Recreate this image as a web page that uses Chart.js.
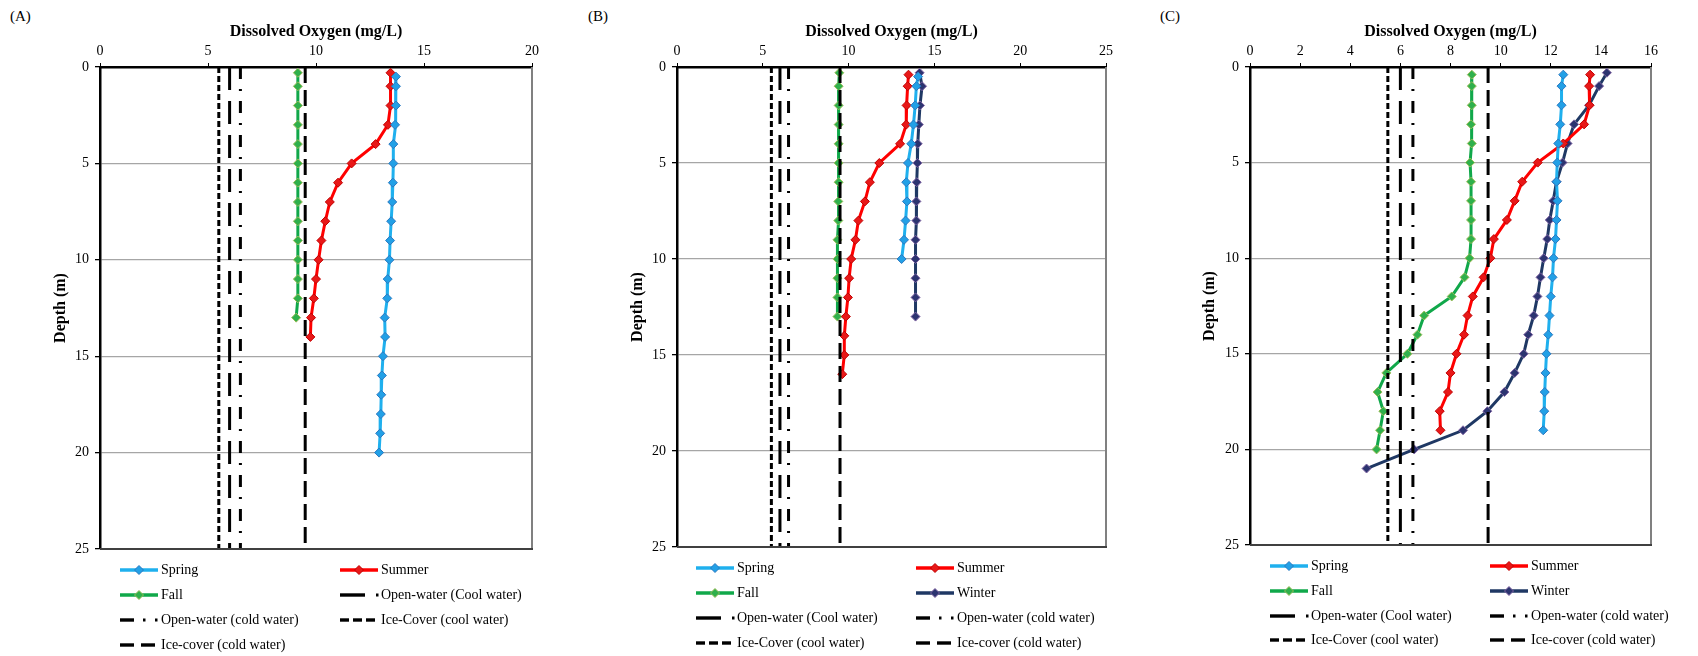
<!DOCTYPE html>
<html>
<head>
<meta charset="utf-8">
<script src="https://cdn.jsdelivr.net/npm/chart.js@4.4.1/dist/chart.umd.min.js"></script>
<style>
  body { margin: 0; background: #fff; }
  #page { position: relative; width: 1698px; height: 656px; overflow: hidden;
          font-family: 'Liberation Serif', 'Times New Roman', serif; color: #000; }
  #page canvas { position: absolute; top: 0; }
  .tag { position: absolute; top: 6px; font-size: 15px; line-height: 20px; }
  .item { position: absolute; height: 20px; font-size: 14px; line-height: 20px; white-space: nowrap; }
  .item svg { position: absolute; left: 0; top: 0; }
  .item span { position: absolute; left: 41px; top: 0; }
</style>
</head>
<body>
<div id="page"></div>
<script>
const SERIF = "'Liberation Serif', 'Times New Roman', serif";

// DO criteria (mg/L)
const iceCoolDO = 5.5;
const openCoolDO = 6;
const openColdDO = 6.5;
const iceColdDO = 9.5;

// (A)
const springDepthA = [0.5, 1, 2, 3, 4, 5, 6, 7, 8, 9, 10, 11, 12, 13, 14, 15, 16, 17, 18, 19, 20];
const springA = [13.70, 13.70, 13.70, 13.66, 13.58, 13.58, 13.56, 13.53, 13.48, 13.43, 13.40, 13.32, 13.30, 13.18, 13.20, 13.10, 13.05, 13.02, 13.00, 12.97, 12.92];
const summerDepthA = [0.3, 1, 2, 3, 4, 5, 6, 7, 8, 9, 10, 11, 12, 13, 14];
const summerA = [13.45, 13.45, 13.45, 13.33, 12.76, 11.65, 11.02, 10.64, 10.43, 10.25, 10.12, 10.00, 9.90, 9.77, 9.74];
const fallDepthA = [0.3, 1, 2, 3, 4, 5, 6, 7, 8, 9, 10, 11, 12, 13];
const fallA = [9.16, 9.16, 9.16, 9.16, 9.16, 9.16, 9.16, 9.16, 9.16, 9.16, 9.16, 9.16, 9.16, 9.08];

// (B)
const springDepthB = [0.5, 1, 2, 3, 4, 5, 6, 7, 8, 9, 10];
const springB = [14.05, 13.95, 13.88, 13.78, 13.65, 13.46, 13.36, 13.40, 13.32, 13.23, 13.09];
const summerDepthB = [0.4, 1, 2, 3, 4, 5, 6, 7, 8, 9, 10, 11, 12, 13, 14, 15, 16];
const summerB = [13.49, 13.44, 13.38, 13.36, 13.00, 11.79, 11.24, 10.95, 10.57, 10.40, 10.15, 10.03, 9.96, 9.84, 9.75, 9.75, 9.63];
const fallDepthB = [0.3, 1, 2, 3, 4, 5, 6, 7, 8, 9, 10, 11, 12, 13];
const fallB = [9.46, 9.42, 9.42, 9.42, 9.42, 9.42, 9.42, 9.40, 9.40, 9.35, 9.35, 9.35, 9.35, 9.35];
const winterDepthB = [0.3, 1, 2, 3, 4, 5, 6, 7, 8, 9, 10, 11, 12, 13];
const winterB = [14.14, 14.28, 14.16, 14.09, 14.03, 14.01, 13.97, 13.95, 13.95, 13.90, 13.90, 13.90, 13.90, 13.90];

// (C)
const springDepthC = [0.4, 1, 2, 3, 4, 5, 6, 7, 8, 9, 10, 11, 12, 13, 14, 15, 16, 17, 18, 19];
const springC = [12.50, 12.43, 12.43, 12.38, 12.30, 12.26, 12.23, 12.27, 12.23, 12.19, 12.11, 12.07, 12.00, 11.95, 11.90, 11.83, 11.79, 11.76, 11.74, 11.70];
const summerDepthC = [0.4, 1, 2, 3, 4, 5, 6, 7, 8, 9, 10, 11, 12, 13, 14, 15, 16, 17, 18, 19];
const summerC = [13.57, 13.53, 13.55, 13.33, 12.50, 11.48, 10.86, 10.56, 10.25, 9.73, 9.59, 9.32, 8.89, 8.68, 8.54, 8.24, 8.00, 7.90, 7.57, 7.60];
const fallDepthC = [0.4, 1, 2, 3, 4, 5, 6, 7, 8, 9, 10, 11, 12, 13, 14, 15, 16, 17, 18, 19, 20];
const fallC = [8.85, 8.85, 8.85, 8.82, 8.85, 8.78, 8.82, 8.82, 8.82, 8.82, 8.76, 8.56, 8.05, 6.95, 6.68, 6.28, 5.44, 5.09, 5.32, 5.19, 5.05];
const winterDepthC = [0.3, 1, 2, 3, 4, 5, 6, 7, 8, 9, 10, 11, 12, 13, 14, 15, 16, 17, 18, 19, 20, 21];
const winterC = [14.24, 13.93, 13.53, 12.93, 12.67, 12.47, 12.23, 12.10, 11.96, 11.86, 11.72, 11.59, 11.47, 11.32, 11.10, 10.92, 10.56, 10.15, 9.47, 8.50, 6.55, 4.65];

const depthMax = 25;

const styles = {
  Spring: { line: '#1fb0ee', fill: '#22a0e6', edge: '#2a78c0' },
  Summer: { line: '#ff0000', fill: '#e81818', edge: '#c00000' },
  Fall:   { line: '#10a84a', fill: '#2fb04c', edge: '#9bbb59' },
  Winter: { line: '#1f3864', fill: '#2c3470', edge: '#8064a2' },
};
const refStyles = {
  'Ice-Cover (cool water)': { value: iceCoolDO, dash: [6, 3] },
  'Open-water (Cool water)': { value: openCoolDO, dash: [23, 11] },
  'Open-water (cold water)': { value: openColdDO, dash: [12, 10, 2, 10] },
  'Ice-cover (cold water)': { value: iceColdDO, dash: [16, 7] },
};

const page = document.getElementById('page');

// gray frame on the right and bottom of the plot
const frame = {
  id: 'frame',
  afterDraw(chart) {
    const { ctx, chartArea: a } = chart;
    ctx.save();
    ctx.lineWidth = 2;
    ctx.strokeStyle = '#808080';
    ctx.beginPath(); ctx.moveTo(a.right, a.top); ctx.lineTo(a.right, a.bottom); ctx.stroke();
    ctx.strokeStyle = '#404040';
    ctx.beginPath(); ctx.moveTo(a.left, a.bottom); ctx.lineTo(a.right + 1, a.bottom); ctx.stroke();
    ctx.restore();
  }
};

function seriesSet(name, depths, values) {
  const s = styles[name];
  return {
    label: name,
    data: depths.map((d, i) => ({ x: values[i], y: d })),
    showLine: true,
    borderColor: s.line,
    borderWidth: 3,
    pointStyle: 'rectRot',
    pointRadius: 4.5,
    pointBackgroundColor: s.fill,
    pointBorderColor: s.edge,
    pointBorderWidth: 1,
  };
}

function refSet(name) {
  const r = refStyles[name];
  return {
    label: name,
    data: [{ x: r.value, y: 0 }, { x: r.value, y: depthMax }],
    showLine: true,
    borderColor: '#000',
    borderWidth: 3,
    borderDash: r.dash,
    borderCapStyle: 'butt',
    pointRadius: 0,
  };
}

function sample(name) {
  if (styles[name]) {
    const s = styles[name];
    return `<svg width="40" height="20"><line x1="0" y1="10" x2="38" y2="10" stroke="${s.line}" stroke-width="3.5"/>` +
      `<polygon points="19,5.5 23.5,10 19,14.5 14.5,10" fill="${s.fill}" stroke="${s.edge}" stroke-width="1"/></svg>`;
  }
  let parts = '';
  if (name === 'Open-water (Cool water)') parts = '<rect x="0" y="8.3" width="25" height="3.4"/><rect x="36" y="8.5" width="2.5" height="3"/>';
  if (name === 'Open-water (cold water)') parts = '<rect x="0" y="8.3" width="14" height="3.4"/><rect x="23" y="8.5" width="2.5" height="3"/><rect x="35" y="8.5" width="2.5" height="3"/>';
  if (name === 'Ice-Cover (cool water)') parts = '<rect x="0" y="8.3" width="9" height="3.4"/><rect x="13" y="8.3" width="9" height="3.4"/><rect x="26" y="8.3" width="9" height="3.4"/>';
  if (name === 'Ice-cover (cold water)') parts = '<rect x="0" y="8.3" width="14" height="3.4"/><rect x="21" y="8.3" width="14" height="3.4"/>';
  return `<svg width="40" height="20">${parts}</svg>`;
}

function drawPanel(p) {
  const tag = document.createElement('div');
  tag.className = 'tag';
  tag.style.left = p.tagX + 'px';
  tag.textContent = p.tag;
  page.appendChild(tag);

  const canvas = document.createElement('canvas');
  canvas.width = p.width;
  canvas.height = 656;
  canvas.style.left = p.left + 'px';
  page.appendChild(canvas);

  const refs = Object.keys(refStyles).map(refSet);
  const series = p.series.map(s => seriesSet(s[0], s[1], s[2]));

  new Chart(canvas.getContext('2d'), {
    type: 'scatter',
    data: { datasets: [...refs, ...series] },
    plugins: [frame],
    options: {
      responsive: false,
      animation: false,
      layout: { padding: { left: 0, top: 0, right: p.width - (p.plotRight - p.left), bottom: 656 - p.plotBottom } },
      plugins: { legend: { display: false }, tooltip: { enabled: false } },
      scales: {
        x: {
          type: 'linear',
          position: 'top',
          min: 0,
          max: p.xMax,
          ticks: { stepSize: p.xStep, color: '#000', padding: 3, font: { family: SERIF, size: 14 } },
          grid: { drawOnChartArea: false, drawTicks: true, tickLength: 4, tickColor: '#000' },
          border: { color: '#000', width: 2.5 },
          title: {
            display: true,
            text: 'Dissolved Oxygen (mg/L)',
            color: '#000',
            font: { family: SERIF, size: 16, weight: 'bold' },
            padding: { top: 22, bottom: 0 },
          },
          afterFit: (scale) => { scale.height = p.plotTop; },
        },
        y: {
          type: 'linear',
          reverse: true,
          min: 0,
          max: depthMax,
          ticks: { stepSize: 5, color: '#000', padding: 6, font: { family: SERIF, size: 14 } },
          grid: { color: '#a6a6a6', lineWidth: 1.3, tickColor: '#000', tickLength: 5 },
          border: { color: '#000', width: 2.5 },
          title: {
            display: true,
            text: 'Depth (m)',
            color: '#000',
            font: { family: SERIF, size: 16, weight: 'bold' },
            padding: { top: p.depthX - p.left - 9.6, bottom: 0 },
          },
          afterFit: (scale) => { scale.width = p.plotLeft - p.left; },
        },
      },
    },
  });

  p.legend.forEach((row, r) => {
    row.forEach((name, c) => {
      const item = document.createElement('div');
      item.className = 'item';
      item.style.left = p.legendX[c] + 'px';
      item.style.top = (p.legendY[r] - 10) + 'px';
      item.innerHTML = sample(name) + `<span>${name}</span>`;
      page.appendChild(item);
    });
  });
}

drawPanel({
  tag: '(A)', tagX: 10, left: 0, width: 560,
  plotLeft: 100, plotRight: 532, plotTop: 67, plotBottom: 549, depthX: 61,
  xMax: 20, xStep: 5,
  series: [['Spring', springDepthA, springA], ['Summer', summerDepthA, summerA], ['Fall', fallDepthA, fallA]],
  legend: [['Spring', 'Summer'], ['Fall', 'Open-water (Cool water)'], ['Open-water (cold water)', 'Ice-Cover (cool water)'], ['Ice-cover (cold water)']],
  legendX: [120, 340], legendY: [570, 595, 620, 645],
});

drawPanel({
  tag: '(B)', tagX: 588, left: 560, width: 570,
  plotLeft: 677, plotRight: 1106, plotTop: 67, plotBottom: 547, depthX: 638,
  xMax: 25, xStep: 5,
  series: [['Spring', springDepthB, springB], ['Summer', summerDepthB, summerB], ['Fall', fallDepthB, fallB], ['Winter', winterDepthB, winterB]],
  legend: [['Spring', 'Summer'], ['Fall', 'Winter'], ['Open-water (Cool water)', 'Open-water (cold water)'], ['Ice-Cover (cool water)', 'Ice-cover (cold water)']],
  legendX: [696, 916], legendY: [568, 593, 618, 643],
});

drawPanel({
  tag: '(C)', tagX: 1160, left: 1130, width: 568,
  plotLeft: 1250, plotRight: 1651, plotTop: 67, plotBottom: 545, depthX: 1210,
  xMax: 16, xStep: 2,
  series: [['Spring', springDepthC, springC], ['Summer', summerDepthC, summerC], ['Fall', fallDepthC, fallC], ['Winter', winterDepthC, winterC]],
  legend: [['Spring', 'Summer'], ['Fall', 'Winter'], ['Open-water (Cool water)', 'Open-water (cold water)'], ['Ice-Cover (cool water)', 'Ice-cover (cold water)']],
  legendX: [1270, 1490], legendY: [566, 591, 616, 640],
});
</script>
</body>
</html>
